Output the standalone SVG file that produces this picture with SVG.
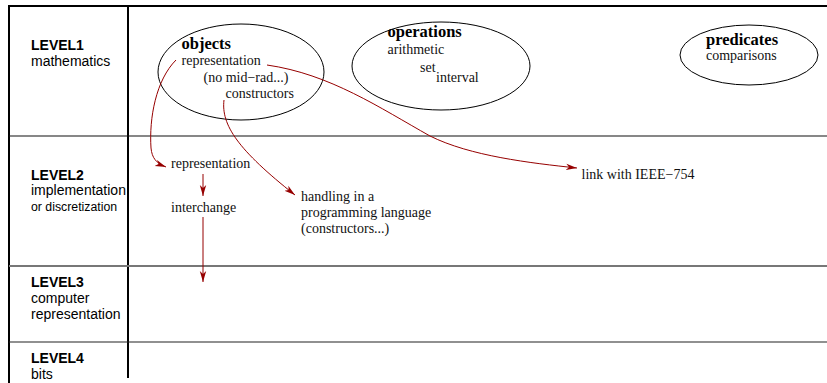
<svg xmlns="http://www.w3.org/2000/svg" width="827" height="383" viewBox="0 0 827 383">
<style>
.lab{font-family:"Liberation Sans",Arial,sans-serif;font-size:14px;fill:#000}
.lb{font-weight:bold}
.t{font-family:"Liberation Serif","Times New Roman",serif;font-size:14px;fill:#111}
.tb{font-family:"Liberation Serif","Times New Roman",serif;font-size:16.5px;font-weight:bold;fill:#000}
.ell{fill:none;stroke:#000;stroke-width:1}
.con{fill:none;stroke:#960000;stroke-width:1}
</style>
<defs>
<marker id="ah" markerUnits="userSpaceOnUse" markerWidth="12" markerHeight="8" refX="11" refY="4" orient="auto">
<path d="M0,0.8 L11,4 L0,7.2 L3,4 Z" fill="#960000"/>
</marker>
</defs>
<g id="grid">
<line x1="9" y1="6" x2="827" y2="6" stroke="#000" stroke-width="2"/>
<line x1="9" y1="5" x2="9" y2="383" stroke="#000" stroke-width="2"/>
<line x1="128" y1="5" x2="128" y2="378" stroke="#000" stroke-width="2"/>
<line x1="9" y1="136" x2="827" y2="136" stroke="#111" stroke-width="1.2"/>
<line x1="9" y1="266" x2="827" y2="266" stroke="#777" stroke-width="1.8"/>
<line x1="9" y1="342" x2="827" y2="342" stroke="#222" stroke-width="1.2"/>
</g>
<g id="level1">
<text class="lab lb" x="31" y="50">LEVEL1</text>
<text class="lab" x="31" y="66">mathematics</text>
</g>
<g id="level2">
<text class="lab lb" x="31" y="180">LEVEL2</text>
<text class="lab" x="31" y="195">implementation</text>
<text class="lab" x="31" y="211" style="font-size:12.3px">or discretization</text>
</g>
<g id="level3">
<text class="lab lb" x="31" y="287">LEVEL3</text>
<text class="lab" x="31" y="303">computer</text>
<text class="lab" x="31" y="319">representation</text>
</g>
<g id="level4">
<text class="lab lb" x="31" y="363">LEVEL4</text>
<text class="lab" x="31" y="379">bits</text>
</g>
<g id="objects">
<ellipse class="ell" cx="241" cy="72" rx="83" ry="48"/>
<text class="tb" x="181.5" y="49">objects</text>
<text class="t" x="181.5" y="65">representation</text>
<text class="t" x="203.5" y="81.5">(no mid−rad...)</text>
<text class="t" x="225.5" y="98">constructors</text>
</g>
<g id="operations">
<ellipse class="ell" cx="441" cy="66" rx="89" ry="44"/>
<text class="tb" x="387.5" y="37">operations</text>
<text class="t" x="387.5" y="54">arithmetic</text>
<text class="t" x="420" y="71.5">set</text>
<text class="t" x="436" y="81.5">interval</text>
</g>
<g id="predicates">
<ellipse class="ell" cx="749" cy="55" rx="69" ry="30"/>
<text class="tb" x="706" y="45">predicates</text>
<text class="t" x="706" y="60">comparisons</text>
</g>
<g id="rep2"><text class="t" x="171" y="168">representation</text></g>
<g id="interchange"><text class="t" x="171" y="211.5">interchange</text></g>
<g id="handling">
<text class="t" x="301" y="200.5">handling in a</text>
<text class="t" x="301" y="217">programming language</text>
<text class="t" x="301" y="233">(constructors...)</text>
</g>
<g id="ieee"><text class="t" x="581.5" y="179">link with IEEE−754</text></g>
<g id="connectors">
<path class="con" d="M176,60 C156,80 149,118 151,148 C152,158 156,163 166,167" marker-end="url(#ah)"/>
<path class="con" d="M224,100 C221,125 238,150 295,195" marker-end="url(#ah)"/>
<path class="con" d="M267,65 C330,74 380,108 430,136 C470,156 530,163 577,168" marker-end="url(#ah)"/>
<path class="con" d="M203,174 L203,196" marker-end="url(#ah)"/>
<path class="con" d="M203,217 L203,282" marker-end="url(#ah)"/>
</g>
</svg>
